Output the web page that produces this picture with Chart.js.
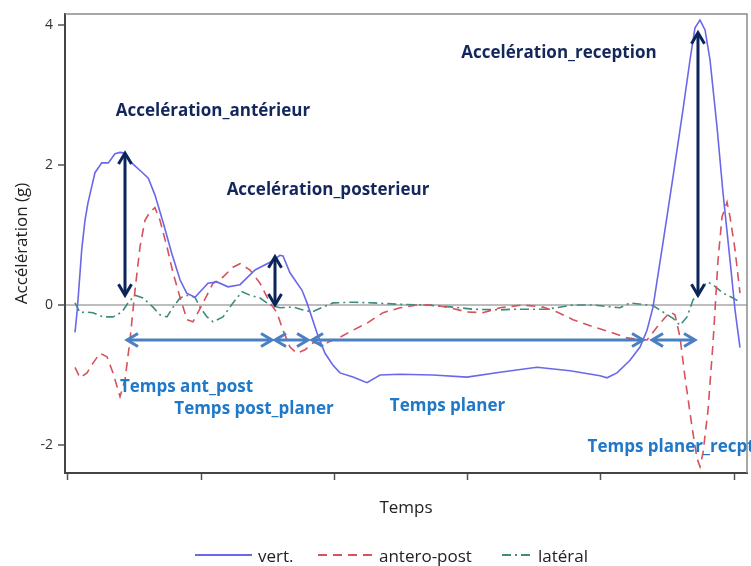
<!DOCTYPE html>
<html>
<head>
<meta charset="utf-8">
<script src="https://cdn.jsdelivr.net/npm/chart.js@4.4.1/dist/chart.umd.min.js"></script>
<style>
  html, body { margin: 0; padding: 0; background: #fff; }
  canvas { display: block; }
</style>
</head>
<body>
<canvas id="chart" width="751" height="566"></canvas>
<script>
// Données (temps en unités d'axe, accélération en g)
const xTicks = [0, 20, 40, 60, 80, 100];
const yTicks = [-2, 0, 2, 4];

const vertT = [1.05, 1.35, 1.58, 2.06, 2.55, 3.00, 3.56, 4.05, 5.06, 6.05, 7.06, 7.81, 8.56, 9.56, 11.07, 12.06, 13.06, 14.31, 15.57, 16.82, 17.82, 19.07, 21.02, 22.37, 24.02, 25.83, 28.08, 30.33, 31.83, 32.28, 33.33, 35.14, 35.89, 37.39, 38.59, 39.79, 40.84, 42.79, 44.89, 46.85, 49.85, 54.80, 59.91, 64.86, 70.42, 75.38, 79.88, 80.93, 82.43, 84.38, 85.89, 86.94, 87.84, 88.44, 89.34, 90.84, 92.34, 93.39, 94.14, 94.89, 95.65, 96.40, 97.45, 98.35, 99.40, 100.15, 100.90];
const vertY = [-0.39, -0.11, 0.17, 0.79, 1.21, 1.46, 1.69, 1.89, 2.03, 2.03, 2.16, 2.18, 2.17, 2.03, 1.90, 1.81, 1.57, 1.17, 0.74, 0.36, 0.17, 0.11, 0.31, 0.33, 0.26, 0.29, 0.50, 0.61, 0.71, 0.70, 0.46, 0.21, 0.03, -0.40, -0.69, -0.86, -0.97, -1.03, -1.11, -1.00, -0.99, -1.00, -1.03, -0.96, -0.89, -0.94, -1.01, -1.04, -0.97, -0.79, -0.60, -0.36, -0.03, 0.34, 0.89, 1.83, 2.79, 3.50, 3.96, 4.07, 3.93, 3.50, 2.54, 1.60, 0.64, -0.07, -0.61];

const apT = [1.05, 1.80, 2.85, 3.75, 4.80, 5.86, 6.76, 7.81, 8.56, 9.31, 10.06, 10.81, 11.56, 12.31, 13.06, 13.81, 14.86, 15.77, 16.82, 17.87, 18.77, 20.27, 21.77, 23.27, 24.77, 25.83, 27.33, 28.83, 30.33, 31.38, 32.28, 33.33, 34.38, 35.59, 36.79, 38.89, 40.84, 42.79, 44.89, 47.30, 49.85, 52.40, 54.80, 57.36, 59.91, 62.31, 64.86, 68.32, 71.32, 73.42, 75.83, 78.83, 81.83, 83.93, 86.94, 88.89, 90.39, 91.14, 91.89, 92.64, 93.69, 94.44, 94.89, 95.35, 96.10, 96.85, 97.60, 98.20, 98.95, 99.40, 100.15, 100.90];
const apY = [-0.89, -1.04, -0.97, -0.83, -0.69, -0.74, -0.97, -1.31, -1.07, -0.50, 0.21, 0.83, 1.21, 1.33, 1.39, 1.21, 0.83, 0.46, 0.11, -0.21, -0.24, 0.03, 0.31, 0.40, 0.54, 0.59, 0.50, 0.31, 0.03, -0.11, -0.36, -0.60, -0.69, -0.64, -0.54, -0.54, -0.46, -0.36, -0.26, -0.11, -0.04, 0.00, 0.00, -0.04, -0.10, -0.11, -0.04, 0.00, -0.03, -0.10, -0.21, -0.31, -0.40, -0.47, -0.50, -0.26, -0.10, -0.14, -0.46, -1.03, -1.74, -2.19, -2.31, -2.11, -1.50, -0.54, 0.64, 1.26, 1.47, 1.26, 0.79, 0.17];

const latT = [1.05, 1.80, 2.55, 3.75, 5.26, 6.76, 8.11, 9.01, 10.06, 11.26, 12.76, 13.81, 14.86, 15.77, 16.82, 18.02, 19.07, 19.82, 20.87, 21.77, 23.27, 24.77, 26.13, 27.33, 28.83, 30.33, 31.83, 33.78, 35.29, 36.64, 38.29, 39.79, 42.79, 45.80, 49.85, 53.90, 57.81, 60.81, 64.86, 66.82, 71.92, 75.83, 78.83, 82.88, 84.38, 87.84, 89.34, 90.84, 91.89, 92.94, 93.84, 94.89, 95.95, 96.85, 98.35, 99.85, 100.90];
const latY = [0.03, -0.11, -0.10, -0.11, -0.17, -0.17, -0.10, 0.03, 0.14, 0.10, -0.03, -0.14, -0.17, -0.03, 0.10, 0.14, 0.11, -0.03, -0.17, -0.24, -0.17, 0.03, 0.19, 0.14, 0.10, 0.00, -0.04, -0.03, -0.07, -0.10, -0.03, 0.03, 0.04, 0.03, 0.01, 0.00, -0.03, -0.06, -0.07, -0.06, -0.06, 0.00, 0.00, -0.04, 0.03, -0.01, -0.10, -0.19, -0.29, -0.17, 0.07, 0.21, 0.33, 0.29, 0.17, 0.10, 0.04];

// Annotations (flèches et textes) en unités de données
const picArrows = [[8.56, 2.17, 0.14], [31.08, 0.69, 0.0], [94.59, 3.89, 0.14]];   // [t, haut, bas]
const tempsArrows = [[8.86, 30.63], [31.08, 36.04], [36.64, 86.34], [87.69, 94.14]]; // [début, fin]
const tempsLevel = -0.5;
const picLabels = [['Accelération_antérieur', 21.77, 2.77], ['Accelération_posterieur', 39.04, 1.64], ['Accelération_reception', 73.72, 3.60]];
const tempsLabels = [['Temps ant_post', 17.79, -1.17], ['Temps post_planer', 27.93, -1.49], ['Temps planer', 56.98, -1.44], ['Temps planer_recpt', 90.55, -2.03]];

const pts = (t, y) => t.map((v, i) => ({ x: v, y: y[i] }));

const FONT = "'Open Sans', 'DejaVu Sans', sans-serif";

// ==========================================
// Plugin : cadre, flèches, textes et légende
// ==========================================
function chevron(ctx, x, y, dx, dy, len, half) {
    // pointe en (x,y), direction (dx,dy)
    const px = -dy, py = dx;
    ctx.beginPath();
    ctx.moveTo(x - dx * len + px * half, y - dy * len + py * half);
    ctx.lineTo(x, y);
    ctx.lineTo(x - dx * len - px * half, y - dy * len - py * half);
    ctx.stroke();
}

const decorPlugin = {
    id: 'decor',
    afterDatasetsDraw(chart) {
        const { ctx, chartArea: a, scales: { x, y } } = chart;
        ctx.save();
        ctx.lineCap = 'butt';
        ctx.lineJoin = 'miter';

        // cadre haut / droite
        ctx.strokeStyle = '#8a8a8a';
        ctx.lineWidth = 1.5;
        ctx.beginPath();
        ctx.moveTo(a.left, a.top);
        ctx.lineTo(a.right, a.top);
        ctx.lineTo(a.right, a.bottom);
        ctx.stroke();

        // flèches verticales (pics)
        ctx.strokeStyle = '#0b2459';
        ctx.lineWidth = 3;
        picArrows.forEach(([t, y1, y2]) => {
            const px = x.getPixelForValue(t);
            const top = y.getPixelForValue(y1), bot = y.getPixelForValue(y2);
            ctx.beginPath();
            ctx.moveTo(px, top + 2);
            ctx.lineTo(px, bot - 2);
            ctx.stroke();
            chevron(ctx, px, top, 0, -1, 11, 6.5);
            chevron(ctx, px, bot, 0, 1, 11, 6.5);
        });

        // flèches horizontales (temps)
        ctx.strokeStyle = '#4a7fc1';
        ctx.lineWidth = 3;
        const py = y.getPixelForValue(tempsLevel);
        tempsArrows.forEach(([t1, t2]) => {
            const a1 = x.getPixelForValue(t1), a2 = x.getPixelForValue(t2);
            ctx.beginPath();
            ctx.moveTo(a1 + 2, py);
            ctx.lineTo(a2 - 2, py);
            ctx.stroke();
            chevron(ctx, a1, py, -1, 0, 11, 6.5);
            chevron(ctx, a2, py, 1, 0, 11, 6.5);
        });

        // textes
        ctx.textBaseline = 'middle';
        ctx.textAlign = 'center';
        ctx.font = `bold 17px ${FONT}`;
        ctx.fillStyle = '#13275c';
        picLabels.forEach(([txt, t, v]) => ctx.fillText(txt, x.getPixelForValue(t), y.getPixelForValue(v)));
        ctx.fillStyle = '#1f78c8';
        tempsLabels.forEach(([txt, t, v]) => ctx.fillText(txt, x.getPixelForValue(t), y.getPixelForValue(v)));

        // légende
        const legendY = 555;
        const slots = [[195, 57], [318, 55], [502, 30]];
        ctx.font = `17px ${FONT}`;
        ctx.textAlign = 'left';
        ctx.fillStyle = '#222';
        chart.data.datasets.forEach((ds, i) => {
            const [sx, sw] = slots[i];
            ctx.strokeStyle = ds.borderColor;
            ctx.lineWidth = 2;
            ctx.setLineDash(ds.borderDash || []);
            ctx.beginPath();
            ctx.moveTo(sx, legendY);
            ctx.lineTo(sx + sw, legendY);
            ctx.stroke();
            ctx.setLineDash([]);
            ctx.fillText(ds.label, sx + sw + 6, legendY + 2);
        });
        ctx.restore();
    }
};

new Chart(document.getElementById('chart'), {
    type: 'line',
    data: {
        datasets: [
            { label: 'vert.', data: pts(vertT, vertY), borderColor: '#6a68ea', borderWidth: 1.6, borderDash: [] },
            { label: 'antero-post', data: pts(apT, apY), borderColor: '#d6525c', borderWidth: 1.6, borderDash: [9, 6] },
            { label: 'latéral', data: pts(latT, latY), borderColor: '#3d8c7d', borderWidth: 1.6, borderDash: [9, 4, 2, 4] }
        ]
    },
    options: {
        responsive: false,
        animation: false,
        layout: { padding: { top: 14, right: 4, bottom: 36, left: 0 } },
        elements: { point: { radius: 0 }, line: { tension: 0 } },
        plugins: { legend: { display: false }, tooltip: { enabled: false } },
        scales: {
            x: {
                type: 'linear',
                min: -0.45,
                max: 101.95,
                afterBuildTicks: s => { s.ticks = xTicks.map(v => ({ value: v })); },
                afterFit: s => { s.height = 57; },
                ticks: { display: false },
                grid: { drawOnChartArea: false, tickLength: 7, tickColor: '#555', tickWidth: 1.5 },
                border: { color: '#444', width: 2 },
                title: { display: true, text: 'Temps', color: '#222', font: { family: FONT, size: 17 }, padding: { top: 0, bottom: 12 } }
            },
            y: {
                min: -2.4,
                max: 4.157,
                afterBuildTicks: s => { s.ticks = yTicks.map(v => ({ value: v })); },
                afterFit: s => { s.width = 65; },
                ticks: { color: '#333', font: { family: FONT, size: 14 }, padding: 5 },
                grid: {
                    drawOnChartArea: true,
                    color: c => c.tick && c.tick.value === 0 ? '#bdbdbd' : 'rgba(0,0,0,0)',
                    lineWidth: c => c.tick && c.tick.value === 0 ? 2 : 0,
                    tickLength: 7, tickColor: '#555', tickWidth: 1.5
                },
                border: { color: '#444', width: 2 },
                title: { display: true, text: 'Accélération (g)', color: '#222', font: { family: FONT, size: 17 }, padding: { top: 12, bottom: 0 } }
            }
        }
    },
    plugins: [decorPlugin]
});
</script>
</body>
</html>
